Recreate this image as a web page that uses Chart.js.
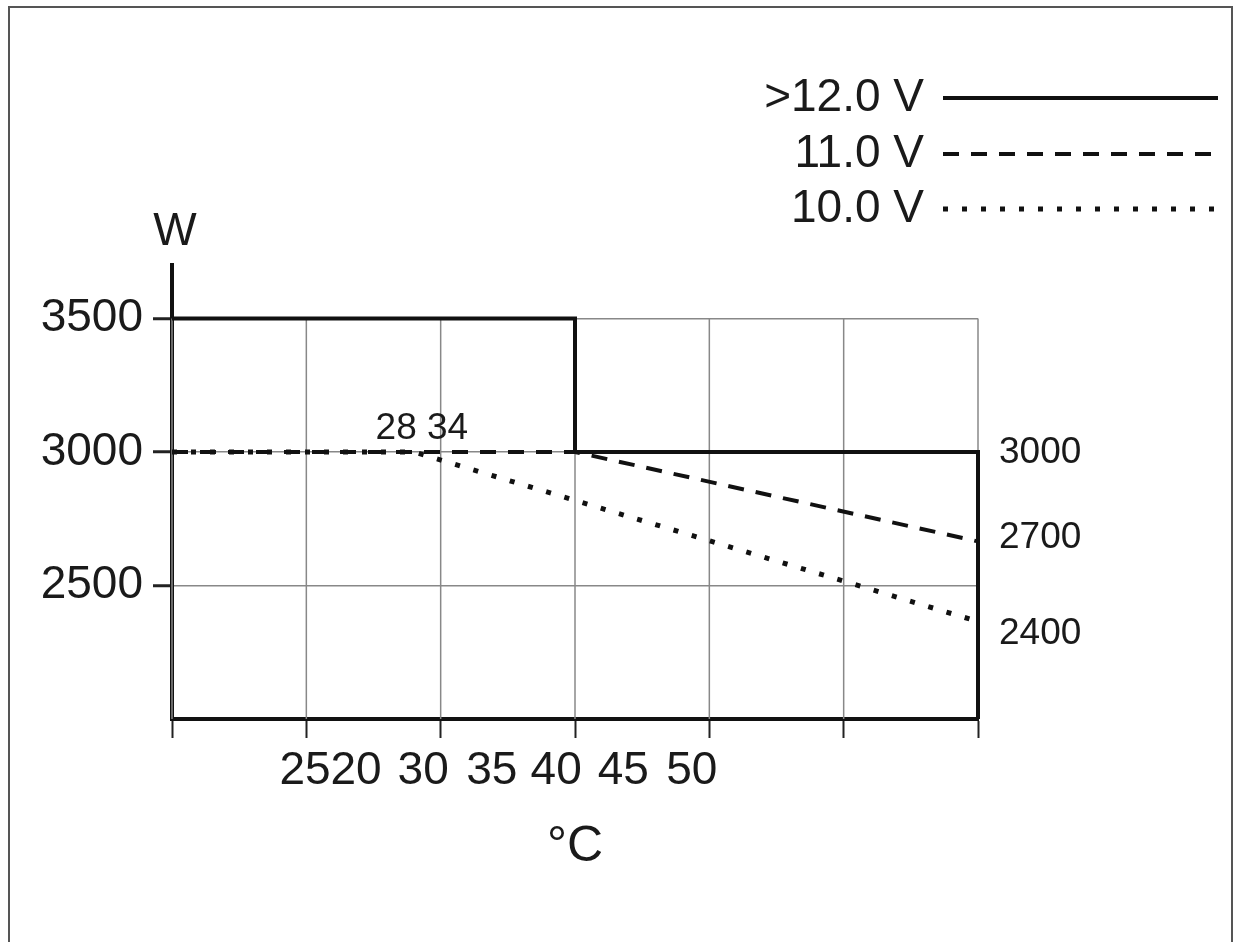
<!DOCTYPE html>
<html>
<head>
<meta charset="utf-8">
<script src="https://cdn.jsdelivr.net/npm/chart.js@4.4.0/dist/chart.umd.min.js"></script>
<style>
  html, body { margin: 0; padding: 0; background: #fff; }
  #wrap { position: relative; width: 1234px; height: 942px; overflow: hidden; }
  #frame { position: absolute; left: 8px; top: 6px; width: 1221px; height: 960px; border: 2px solid #555; pointer-events: none; }
</style>
</head>
<body>
<div id="wrap"><canvas id="myChart"></canvas><div id="frame"></div></div>
<script>
// series (temperature units on the grid, watts)
var seriesLabels = [">12.0 V", "11.0 V", "10.0 V"];
var solidTemp = [10, 40, 40, 70, 70];
var solidPower = [3500, 3500, 3000, 3000, 2000];
var dashTemp = [10, 40, 70];
var dashPower = [3000, 3000, 2665];
var dotTemp = [10, 28, 70];
var dotPower = [3000, 3000, 2365];

// ticks and labels
var yTickValues = [2500, 3000, 3500];
var xTickLabels = ["25", "20", "30", "35", "40", "45", "50"];
var xTickAt = [19.9, 23.7, 28.7, 33.8, 38.6, 43.6, 48.7];
var endLabels = ["3000", "2700", "2400"];
var endLabelAt = [2995, 2677, 2318];
var breakNote = "28 34";
var breakNoteAt = { x: 28.6, y: 3086 };

var fontFamily = "'Liberation Sans', Arial, Helvetica, sans-serif";
var ink = '#1a1a1a';

var toPoints = function (xs, ys) {
    return xs.map(function (v, i) { return { x: v, y: ys[i] }; });
};

var extras = {
    id: 'extras',
    beforeDatasetsDraw: function (chart) {
        var ctx = chart.ctx, x = chart.scales.x, y = chart.scales.y;
        var top = y.getPixelForValue(Math.max.apply(null, yTickValues));
        ctx.save();
        ctx.strokeStyle = '#888';
        ctx.lineWidth = 1.5;
        x.ticks.forEach(function (t) {
            var px = x.getPixelForValue(t.value);
            ctx.beginPath();
            ctx.moveTo(px, top);
            ctx.lineTo(px, y.getPixelForValue(y.min));
            ctx.stroke();
        });
        ctx.restore();
    },
    afterDraw: function (chart) {
        var ctx = chart.ctx, x = chart.scales.x, y = chart.scales.y;
        var rows = [98, 154, 209];
        ctx.save();
        // legend: label on the left, line sample on the right
        chart.data.datasets.forEach(function (ds, i) {
            ctx.font = '46px ' + fontFamily;
            ctx.fillStyle = ink;
            ctx.textAlign = 'right';
            ctx.textBaseline = 'middle';
            ctx.fillText(ds.label, 924, rows[i]);
            ctx.setLineDash(ds.borderDash || []);
            ctx.lineWidth = ds.borderWidth;
            ctx.strokeStyle = ds.borderColor;
            ctx.beginPath();
            ctx.moveTo(943, rows[i]);
            ctx.lineTo(1218, rows[i]);
            ctx.stroke();
        });
        ctx.setLineDash([]);
        // unit above the y axis
        ctx.font = '46px ' + fontFamily;
        ctx.textAlign = 'center';
        ctx.fillText('W', chart.chartArea.left + 3, chart.chartArea.top - 33);
        // break point note
        ctx.font = '37px ' + fontFamily;
        ctx.fillText(breakNote, x.getPixelForValue(breakNoteAt.x), y.getPixelForValue(breakNoteAt.y));
        ctx.restore();
    }
};

var ctx = document.getElementById('myChart').getContext('2d');
var chart = new Chart(ctx, {
    type: 'line',
    data: {
        datasets: [{
            label: seriesLabels[0],
            data: toPoints(solidTemp, solidPower),
            borderColor: '#111',
            borderWidth: 4,
            borderDash: []
        }, {
            label: seriesLabels[1],
            data: toPoints(dashTemp, dashPower),
            borderColor: '#111',
            borderWidth: 4,
            borderDash: [16, 12]
        }, {
            label: seriesLabels[2],
            data: toPoints(dotTemp, dotPower),
            borderColor: '#111',
            borderWidth: 5,
            borderDash: [5, 14]
        }]
    },
    plugins: [extras],
    options: {
        responsive: true,
        maintainAspectRatio: false,
        animation: false,
        layout: { padding: { top: 265, left: 0, right: 0, bottom: 0 } },
        elements: {
            point: { radius: 0 },
            line: { tension: 0, borderCapStyle: 'butt', fill: false }
        },
        datasets: { line: { clip: false } },
        plugins: {
            legend: { display: false },
            tooltip: { enabled: false }
        },
        scales: {
            x: {
                type: 'linear',
                position: 'bottom',
                weight: 0,
                min: 10,
                max: 70,
                ticks: { stepSize: 10, display: false },
                grid: { drawOnChartArea: false, drawTicks: true, tickLength: 19, tickColor: '#222', tickWidth: 2 },
                border: { display: true, color: '#111', width: 4 }
            },
            x2: {
                type: 'linear',
                position: 'bottom',
                weight: 1,
                min: 10,
                max: 70,
                afterBuildTicks: function (axis) {
                    axis.ticks = xTickAt.map(function (v) { return { value: v }; });
                },
                afterFit: function (axis) { axis.height = 204; },
                ticks: {
                    autoSkip: false,
                    minRotation: 0,
                    maxRotation: 0,
                    padding: 2,
                    color: ink,
                    font: { family: fontFamily, size: 46, lineHeight: 1 },
                    callback: function (v, i) { return xTickLabels[i]; }
                },
                grid: { display: false },
                border: { display: false },
                title: {
                    display: true,
                    text: '°C',
                    color: ink,
                    font: { family: fontFamily, size: 50 },
                    padding: { top: 0, bottom: 65 }
                }
            },
            y: {
                type: 'linear',
                position: 'left',
                min: 2000,
                max: 3700,
                afterBuildTicks: function (axis) {
                    axis.ticks = yTickValues.map(function (v) { return { value: v }; });
                },
                afterFit: function (axis) { axis.width = 172; },
                ticks: {
                    padding: 10,
                    color: ink,
                    font: { family: fontFamily, size: 46 },
                    callback: function (v) { return String(v); }
                },
                grid: { color: '#888', lineWidth: 1.5, tickLength: 19, tickColor: '#222', tickWidth: 3 },
                border: { display: true, color: '#111', width: 4 }
            },
            y2: {
                type: 'linear',
                position: 'right',
                min: 2000,
                max: 3700,
                afterBuildTicks: function (axis) {
                    axis.ticks = endLabelAt.map(function (v) { return { value: v }; });
                },
                afterFit: function (axis) { axis.width = 256; },
                ticks: {
                    padding: 13,
                    color: ink,
                    font: { family: fontFamily, size: 37 },
                    callback: function (v, i) { return endLabels[i]; }
                },
                grid: { display: false },
                border: { display: false }
            }
        }
    }
});
</script>
</body>
</html>
